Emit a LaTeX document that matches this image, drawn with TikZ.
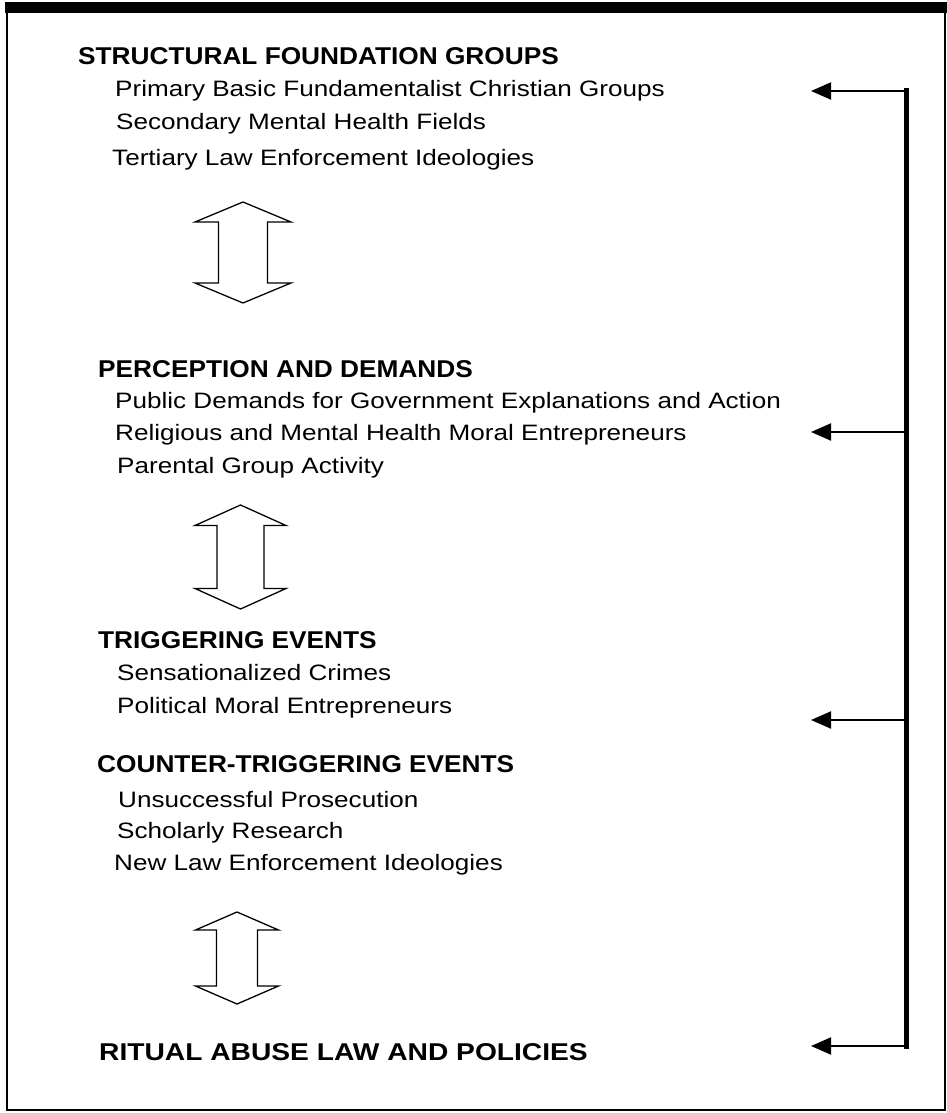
\documentclass[tikz,border=0pt]{standalone}
\usepackage{fontspec}
\newfontfamily\headfont{Liberation Sans}[FakeStretch=1.08]
\newfontfamily\headwide{Liberation Sans}[FakeStretch=1.16]
\newfontfamily\itemfont{Liberation Sans}[FakeStretch=1.17]
\usetikzlibrary{arrows.meta}

\begin{document}
\begin{tikzpicture}[x=1pt, y=-1pt,
  head/.style={anchor=base west, inner sep=0pt, font=\headfont\bfseries\fontsize{24.3}{28}\selectfont},
  item/.style={anchor=base west, inner sep=0pt, font=\itemfont\fontsize{22.3}{26}\selectfont},
  updown/.style={line width=1.3pt, line join=miter},
  bar/.style={line width=5pt, line cap=rect},
  feedback/.style={line width=2pt, -{Triangle[length=20pt, width=17pt]}}]
  \useasboundingbox (0,0) rectangle (947,1113);
  % frame
  \fill (5,2) rectangle (947,13);
  \draw[line width=2pt] (7,8) rectangle (945,1110);
  % groups
  \node[head] (sfg) at (78,65) {STRUCTURAL FOUNDATION GROUPS};
  \node[item] (pri) at (115,97) {Primary Basic Fundamentalist Christian Groups};
  \node[item] (sec) at (116,130) {Secondary Mental Health Fields};
  \node[item] (ter) at (112,165) {Tertiary Law Enforcement Ideologies};
  \node[head] (pad) at (98,377) {PERCEPTION AND DEMANDS};
  \node[item] (pub) at (115,408) {Public Demands for Government Explanations and Action};
  \node[item] (rel) at (115,440) {Religious and Mental Health Moral Entrepreneurs};
  \node[item] (par) at (117,473) {Parental Group Activity};
  \node[head] (trg) at (98,648) {TRIGGERING EVENTS};
  \node[item] (sen) at (117,680) {Sensationalized Crimes};
  \node[item] (pol) at (117,713) {Political Moral Entrepreneurs};
  \node[head] (ctr) at (97,772) {COUNTER-TRIGGERING EVENTS};
  \node[item] (uns) at (118,807) {Unsuccessful Prosecution};
  \node[item] (sch) at (117,838) {Scholarly Research};
  \node[item] (nle) at (114,870) {New Law Enforcement Ideologies};
  \node[head, font=\headwide\bfseries\fontsize{24.3}{28}\selectfont] (ral) at (99,1060) {RITUAL ABUSE LAW AND POLICIES};
  % double arrows
  \foreach \cx/\ty/\by/\hw/\sw/\hl in {243/202/303/48/24.5/20, 240.5/505/609/45.5/23.5/20.5, 237/912/1004/41.5/20.5/18}
    \draw[updown] (\cx,\ty) -- (\cx+\hw,\ty+\hl) -- (\cx+\sw,\ty+\hl) -- (\cx+\sw,\by-\hl)
      -- (\cx+\hw,\by-\hl) -- (\cx,\by) -- (\cx-\hw,\by-\hl) -- (\cx-\sw,\by-\hl)
      -- (\cx-\sw,\ty+\hl) -- (\cx-\hw,\ty+\hl) -- cycle;
  % feedback
  \foreach \i/\yy in {1/91, 2/432, 3/720, 4/1046} {
    \coordinate (b\i) at (906,\yy);
    \coordinate (t\i) at (811,\yy);
  }
  \draw[bar] (b1) -- (b4);
  \foreach \i in {1,...,4}
    \draw[feedback] (b\i) -- (t\i);
\end{tikzpicture}
\end{document}
